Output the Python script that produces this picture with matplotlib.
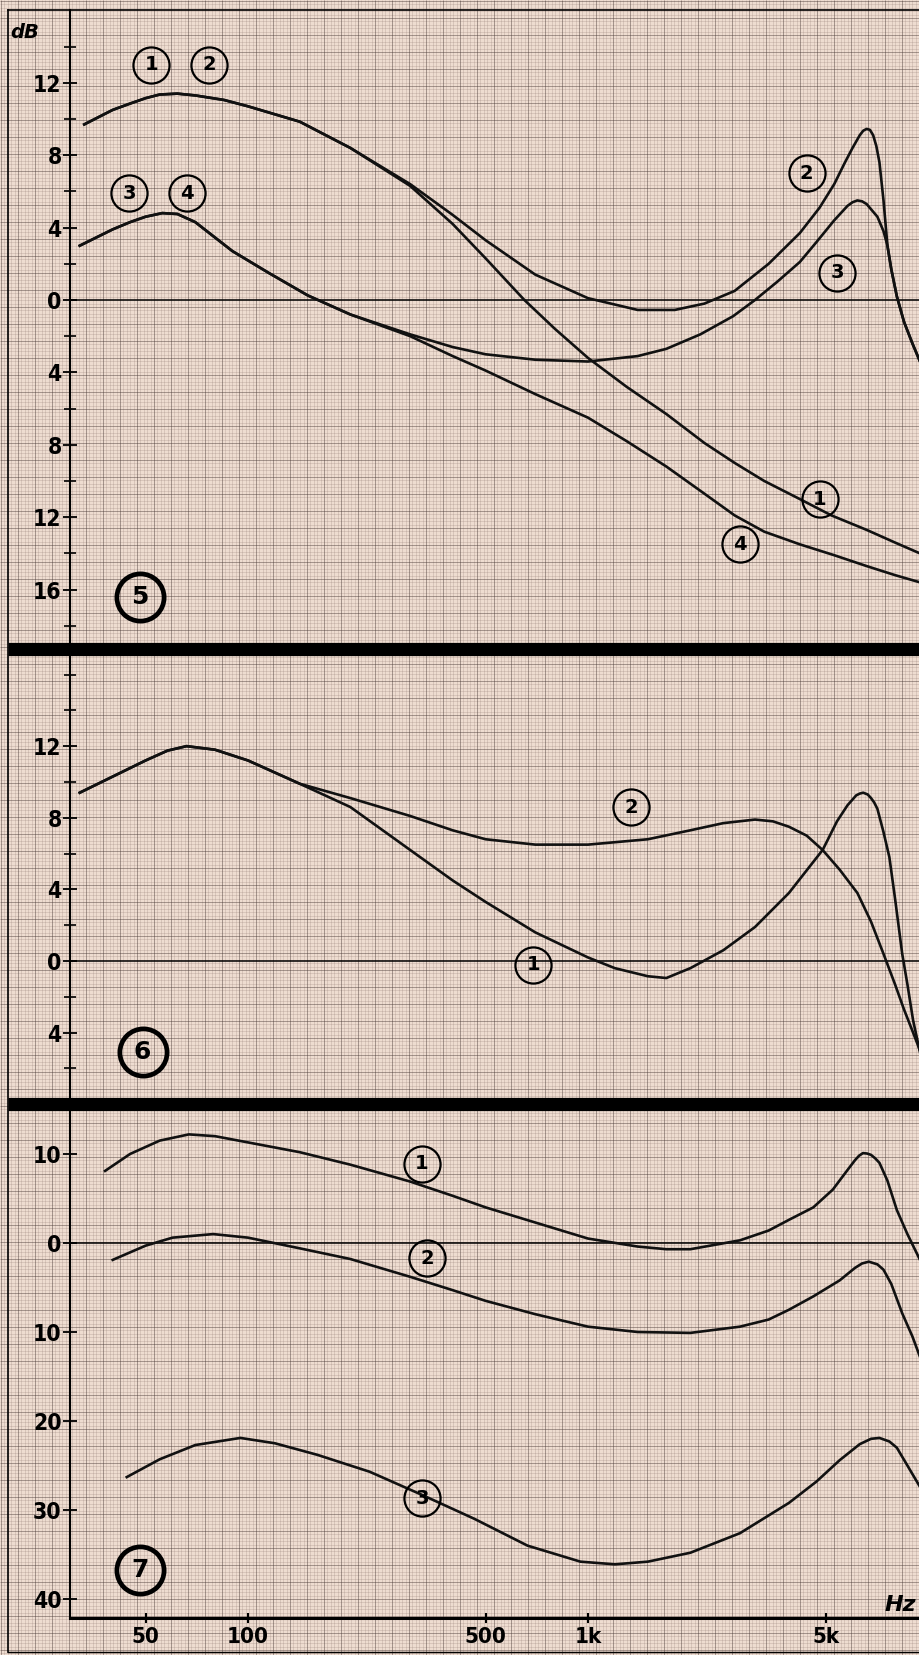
import numpy as np
import matplotlib
matplotlib.use("Agg")
import matplotlib.pyplot as plt
from matplotlib.collections import LineCollection
from matplotlib.ticker import FixedLocator, FixedFormatter, NullFormatter, NullLocator

# ------------------------------------------------------------------ data
# Panel 5
p5_c1_f = [33, 40, 45, 50, 55, 62, 70, 85, 100, 142, 200, 300, 400, 500, 650, 800, 1000, 1300,
           1700, 2200, 2700, 3300, 4200, 5200, 6600, 8000, 9475]
p5_c1_db = [9.7, 10.5, 10.85, 11.15, 11.35, 11.4, 11.3, 11.05, 10.7, 9.85, 8.4, 6.3, 4.2, 2.3,
            0.0, -1.6, -3.2, -4.8, -6.3, -7.9, -9.0, -10.0, -11.0, -11.9, -12.7, -13.4, -14.0]

p5_c2_f = [33, 40, 45, 50, 55, 62, 70, 85, 100, 142, 200, 300, 400, 500, 700, 1000, 1400, 1800,
           2200, 2700, 3400, 4200, 4800, 5300, 5700, 6000, 6300, 6450, 6600, 6750, 6900, 7050,
           7200, 7400, 7600, 7800, 8100, 8500, 9000, 9475]
p5_c2_db = [9.7, 10.5, 10.85, 11.15, 11.35, 11.4, 11.3, 11.05, 10.7, 9.85, 8.4, 6.4, 4.7, 3.3,
            1.4, 0.1, -0.55, -0.55, -0.2, 0.5, 2.0, 3.7, 5.1, 6.4, 7.6, 8.4, 9.1, 9.35, 9.45,
            9.4, 9.1, 8.5, 7.6, 5.5, 3.0, 1.7, 0.2, -1.2, -2.4, -3.4]

p5_c3_f = [32, 40, 45, 50, 56, 62, 70, 90, 115, 150, 200, 300, 400, 500, 700, 1000, 1400, 1700,
           2140, 2670, 3100, 3600, 4200, 4700, 5300, 5800, 6000, 6200, 6400, 6600, 7100, 7400,
           7600, 7800, 8100, 8500, 9000, 9475]
p5_c3_db = [3.0, 3.9, 4.3, 4.6, 4.8, 4.75, 4.3, 2.7, 1.5, 0.25, -0.8, -1.9, -2.6, -3.0, -3.3,
            -3.4, -3.1, -2.7, -1.9, -0.9, 0.0, 1.0, 2.1, 3.2, 4.4, 5.2, 5.4, 5.5, 5.45, 5.3,
            4.6, 3.8, 3.0, 1.7, 0.2, -1.2, -2.4, -3.4]

p5_c4_f = [32, 40, 45, 50, 56, 62, 70, 90, 115, 150, 200, 300, 400, 500, 700, 1000, 1300, 1700,
           2200, 2700, 3300, 4200, 5300, 6600, 8000, 9475]
p5_c4_db = [3.0, 3.9, 4.3, 4.6, 4.8, 4.75, 4.3, 2.7, 1.5, 0.25, -0.8, -2.0, -3.1, -3.9, -5.2,
            -6.5, -7.8, -9.2, -10.7, -11.9, -12.8, -13.5, -14.1, -14.7, -15.2, -15.6]

# Panel 6
p6_c1_f = [32, 40, 50, 58, 66, 80, 100, 142, 200, 300, 400, 500, 700, 1000, 1200, 1500, 1700,
           2000, 2500, 3100, 3900, 4900, 5400, 5800, 6150, 6300, 6450, 6650, 6800, 6950, 7100,
           7400, 7700, 8000, 8400, 8700, 9040, 9475]
p6_c1_db = [9.4, 10.3, 11.2, 11.75, 12.0, 11.8, 11.2, 9.9, 8.6, 6.2, 4.5, 3.3, 1.6, 0.2, -0.4,
            -0.85, -0.95, -0.4, 0.6, 1.9, 3.8, 6.2, 7.8, 8.7, 9.25, 9.35, 9.4, 9.3, 9.1, 8.85,
            8.5, 7.2, 5.8, 3.5, 0.4, -1.3, -3.3, -5.1]

p6_c2_f = [32, 40, 50, 58, 66, 80, 100, 142, 200, 300, 400, 500, 700, 1000, 1500, 2000, 2500,
           3100, 3500, 3900, 4400, 4900, 5500, 6200, 6800, 7400, 8000, 8500, 9000, 9475]
p6_c2_db = [9.4, 10.3, 11.2, 11.75, 12.0, 11.8, 11.2, 9.9, 9.1, 8.1, 7.3, 6.8, 6.5, 6.5, 6.8,
            7.3, 7.7, 7.9, 7.8, 7.5, 7.0, 6.2, 5.1, 3.8, 2.2, 0.4, -1.3, -2.7, -3.9, -5.0]

# Panel 7
p7_c1_f = [38, 45, 55, 67, 80, 100, 142, 200, 300, 400, 500, 700, 1000, 1400, 1700, 2000, 2800,
           3400, 3900, 4600, 5250, 5800, 6100, 6270, 6440, 6620, 6800, 7000, 7200, 7600, 8100,
           8700, 9475]
p7_c1_db = [8.1, 10.0, 11.5, 12.2, 12.0, 11.3, 10.2, 8.8, 6.9, 5.3, 4.0, 2.3, 0.5, -0.4, -0.7,
            -0.7, 0.3, 1.4, 2.6, 4.0, 6.0, 8.2, 9.3, 9.8, 10.1, 10.05, 9.9, 9.5, 9.0, 7.0, 3.7,
            1.0, -1.9]

p7_c2_f = [40, 50, 60, 79, 100, 142, 200, 300, 400, 500, 700, 1000, 1400, 2000, 2800, 3400, 3900,
           4600, 5500, 6100, 6400, 6700, 7100, 7400, 7800, 8400, 9000, 9475]
p7_c2_db = [-1.9, -0.3, 0.6, 1.0, 0.6, -0.6, -1.8, -3.8, -5.3, -6.5, -8.0, -9.4, -10.0, -10.1,
            -9.4, -8.6, -7.5, -6.0, -4.2, -2.8, -2.3, -2.1, -2.4, -3.0, -4.6, -7.9, -10.5, -12.8]

p7_c3_f = [44, 55, 70, 95, 120, 160, 228, 325, 464, 664, 950, 1200, 1500, 2000, 2800, 3900, 4700,
           5500, 6300, 6800, 7200, 7700, 8100, 8700, 9475]
p7_c3_db = [-26.3, -24.3, -22.7, -21.9, -22.5, -23.8, -25.7, -28.3, -31.0, -34.0, -35.8, -36.1,
            -35.8, -34.8, -32.6, -29.2, -26.8, -24.4, -22.6, -22.0, -21.9, -22.3, -23.0, -25.0,
            -27.4]

# axis ticks / labels
x_ticks = [50, 100, 500, 1000, 5000]
x_ticklabels = ["50", "100", "500", "1k", "5k"]
p5_yticks = [12, 8, 4, 0, -4, -8, -12, -16]
p5_yminor = [14, 10, 6, 2, -2, -6, -10, -14, -18]
p6_yticks = [12, 8, 4, 0, -4]
p6_yminor = [16, 14, 10, 6, 2, -2, -6]
p7_yticks = [10, 0, -10, -20, -30, -40]

# curve label anchors (frequency, dB, text)
p5_labels = [(52, 13.0, "1"), (77, 13.0, "2"), (44.7, 5.9, "3"), (66, 5.9, "4"),
             (4400, 7.0, "2"), (5400, 1.5, "3"), (4800, -11.0, "1"), (2800, -13.5, "4")]
p6_labels = [(1340, 8.6, "2"), (690, -0.2, "1")]
p7_labels = [(325, 8.9, "1"), (336, -1.7, "2"), (325, -28.7, "3")]
panel_ids = [(48, -16.4, "5"), (49, -5.1, "6"), (48, -36.7, "7")]

# ------------------------------------------------------------------ figure
W, H = 920, 1655
fig = plt.figure(figsize=(W / 100, H / 100), dpi=100)
fig.patch.set_facecolor("#eedcd0")

FONT = ["Liberation Sans Narrow", "DejaVu Sans"]

# graph-paper background
bg = fig.add_axes([0, 0, 1, 1], zorder=0)
bg.set_xlim(0, W)
bg.set_ylim(H, 0)
bg.axis("off")
step = 3.4
xs = np.arange(1, W, step)
ys = np.arange(1, H, step)
fine_v = [[(x, 0), (x, H)] for i, x in enumerate(xs) if i % 5]
fine_h = [[(0, y), (W, y)] for i, y in enumerate(ys) if i % 5]
maj_v = [[(x, 0), (x, H)] for i, x in enumerate(xs) if i % 5 == 0]
maj_h = [[(0, y), (W, y)] for i, y in enumerate(ys) if i % 5 == 0]
bg.add_collection(LineCollection(fine_v + fine_h, colors="#8a716a", linewidths=0.4, alpha=0.38))
bg.add_collection(LineCollection(maj_v + maj_h, colors="#4d3d39", linewidths=0.65, alpha=0.5))

# frame and thick separators
bg.plot([8, W], [10, 10], color="black", lw=1.2)
bg.plot([8, 8], [10, 1652], color="black", lw=1.2)
bg.plot([8, W], [1652, 1652], color="black", lw=1.0)
bg.plot([8, W], [649, 649], color="black", lw=9.5, solid_capstyle="butt")
bg.plot([8, W], [1104, 1104], color="black", lw=9.5, solid_capstyle="butt")

XL = (29.96, 9475)
AX_L = 70 / W
AX_W = (W - 70) / W


def make_axes(top_px, bot_px, ylim):
    ax = fig.add_axes([AX_L, 1 - bot_px / H, AX_W, (bot_px - top_px) / H], zorder=2)
    ax.set_facecolor("none")
    ax.set_xscale("log")
    ax.set_xlim(*XL)
    ax.set_ylim(*ylim)
    for s in ("top", "right", "bottom"):
        ax.spines[s].set_visible(False)
    ax.spines["left"].set_linewidth(1.5)
    ax.xaxis.set_major_locator(NullLocator())
    ax.xaxis.set_minor_locator(NullLocator())
    ax.axhline(0, color="black", lw=1.1, zorder=3)
    return ax


def set_yticks(ax, major, minor):
    ax.yaxis.set_major_locator(FixedLocator(major))
    ax.yaxis.set_major_formatter(FixedFormatter([str(abs(v)) for v in major]))
    ax.yaxis.set_minor_locator(FixedLocator(minor))
    ax.yaxis.set_minor_formatter(NullFormatter())
    ax.tick_params(axis="y", which="major", direction="inout", length=10, width=1.3, pad=1)
    ax.tick_params(axis="y", which="minor", direction="inout", length=8, width=1.2)
    for t in ax.get_yticklabels():
        t.set_fontfamily(FONT)
        t.set_fontweight("bold")
        t.set_fontsize(16.5)
        t.set_fontstretch("condensed")


def circ_label(ax, f, db, txt, big=False):
    if big:
        ax.plot([f], [db], "o", ms=34, mfc="none", mec="black", mew=3.4, zorder=5)
        ax.text(f, db, txt, ha="center", va="center", fontsize=18, fontweight="bold",
                family=FONT, zorder=6)
    else:
        ax.plot([f], [db], "o", ms=26, mfc="none", mec="black", mew=1.6, zorder=5)
        ax.text(f, db, txt, ha="center", va="center", fontsize=14, fontweight="bold",
                family=FONT, zorder=6)


LW = 1.9
CK = "#111111"

# Panel 5
ax5 = make_axes(10, 643, (-18.95, 16.02))
set_yticks(ax5, p5_yticks, p5_yminor)
for f, d in [(p5_c1_f, p5_c1_db), (p5_c2_f, p5_c2_db), (p5_c3_f, p5_c3_db), (p5_c4_f, p5_c4_db)]:
    ax5.plot(f, d, color=CK, lw=LW, solid_joinstyle="round", zorder=4)
for f, d, t in p5_labels:
    circ_label(ax5, f, d, t)
circ_label(ax5, *panel_ids[0], big=True)

# Panel 6
ax6 = make_axes(655, 1098, (-7.65, 17.09))
set_yticks(ax6, p6_yticks, p6_yminor)
for f, d in [(p6_c1_f, p6_c1_db), (p6_c2_f, p6_c2_db)]:
    ax6.plot(f, d, color=CK, lw=LW, solid_joinstyle="round", zorder=4)
for f, d, t in p6_labels:
    circ_label(ax6, f, d, t)
circ_label(ax6, *panel_ids[1], big=True)

# Panel 7
ax7 = make_axes(1110, 1618, (-42.13, 14.94))
set_yticks(ax7, p7_yticks, [])
ax7.spines["bottom"].set_visible(True)
ax7.spines["bottom"].set_linewidth(2.2)
ax7.xaxis.set_major_locator(FixedLocator(x_ticks))
ax7.xaxis.set_major_formatter(FixedFormatter(x_ticklabels))
ax7.tick_params(axis="x", which="major", direction="inout", length=7, width=1.5, pad=3)
for t in ax7.get_xticklabels():
    t.set_fontfamily(FONT)
    t.set_fontweight("bold")
    t.set_fontsize(16)
    t.set_fontstretch("condensed")
for f, d in [(p7_c1_f, p7_c1_db), (p7_c2_f, p7_c2_db), (p7_c3_f, p7_c3_db)]:
    ax7.plot(f, d, color=CK, lw=LW, solid_joinstyle="round", zorder=4)
for f, d, t in p7_labels:
    circ_label(ax7, f, d, t)
circ_label(ax7, *panel_ids[2], big=True)
ax7.text(8300, -40.7, "Hz", ha="center", va="center", fontsize=16, fontweight="bold",
         style="italic", family=FONT)

fig.text(25 / W, 1 - 32 / H, "dB", ha="center", va="center", fontsize=14, fontweight="bold",
         style="italic", family=FONT)

fig.savefig("out.png", dpi=100, facecolor=fig.get_facecolor())
